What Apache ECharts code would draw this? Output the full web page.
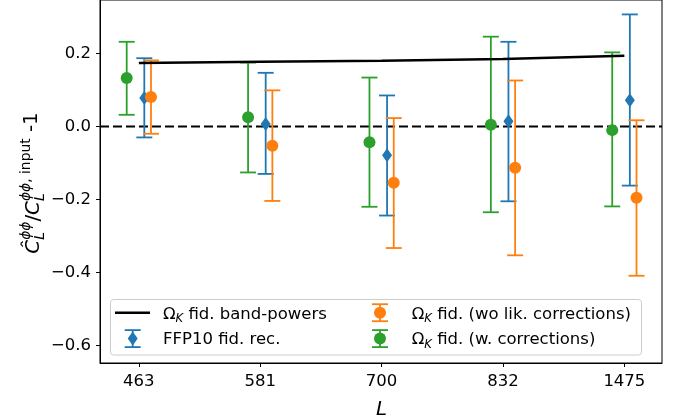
<!DOCTYPE html>
<html><head><meta charset="utf-8">
<script src="https://cdn.jsdelivr.net/npm/echarts@6/dist/echarts.min.js"></script>
<style>html,body{margin:0;padding:0;background:#fff}#c{width:683px;height:420px}</style>
</head><body><div id="c"></div>
<script>
const categories = ['463','581','700','832','1475'];
const bandPowers = [0.174,0.177,0.180,0.185,0.194];
const ffp10 = [0.078,0.007,-0.079,0.014,0.072];
const ffp10Low = [-0.030,-0.130,-0.244,-0.205,-0.162];
const ffp10High = [0.187,0.147,0.085,0.232,0.307];
const woLik = [0.081,-0.053,-0.154,-0.113,-0.195];
const woLikLow = [-0.020,-0.204,-0.333,-0.353,-0.409];
const woLikHigh = [0.181,0.099,0.023,0.126,0.017];
const wCorr = [0.133,0.025,-0.043,0.005,-0.010];
const wCorrLow = [0.032,-0.126,-0.220,-0.235,-0.219];
const wCorrHigh = [0.232,0.175,0.134,0.246,0.203];
const yTicks = [-0.6,-0.4,-0.2,0.0,0.2];
const xTicks = [0,1,2,3,4];

const BLUE='#1f77b4', ORANGE='#ff7f0e', GREEN='#2ca02c';
const FF='"DejaVu Sans"';
const F=16.5, S=F*0.7;
const FL=19.8, SL=FL*0.7;
const OFF_BLUE=0.045, OFF_ORANGE=0.1, OFF_GREEN=-0.1;

const ctx=document.createElement('canvas').getContext('2d');
function fnt(s,it){return (it?'italic ':'')+s+'px '+FF;}
function tw(t,s,it){ctx.font=fnt(s,it);return ctx.measureText(t).width;}
function midOff(s){
  ctx.font=fnt(s,false);
  ctx.textBaseline='alphabetic';const a1=ctx.measureText('H').actualBoundingBoxAscent;
  ctx.textBaseline='middle';const a2=ctx.measureText('H').actualBoundingBoxAscent;
  ctx.textBaseline='alphabetic';
  return a1-a2;
}
// pieces: {t,s,it,dy,stack}; baseline at y=0; stack=true -> next piece starts at same x
function layoutPieces(pieces){
  const els=[];let x=0;let stackW=0;
  pieces.forEach(p=>{
    const w=tw(p.t,p.s,p.it);
    els.push({type:'text',x:x,y:(p.dy||0)-midOff(p.s),silent:true,
      style:{text:p.t,font:fnt(p.s,p.it),fill:'#000',align:'left',verticalAlign:'middle'}});
    if(p.stack){stackW=Math.max(stackW,w);}
    else{x+=Math.max(w,stackW);stackW=0;}
  });
  return {els:els,width:x};
}

function errData(vals,lo,hi,off){return vals.map((v,i)=>[i+off,lo[i],hi[i]]);}
function ptData(vals,off){return vals.map((v,i)=>[i+off,v]);}
function errRender(color){
  return function(params,api){
    const x=api.value(0),lo=api.value(1),hi=api.value(2);
    const a=api.coord([x,lo]),b=api.coord([x,hi]);const hw=8;
    const st={stroke:color,lineWidth:1.8};
    return {type:'group',children:[
      {type:'line',shape:{x1:a[0],y1:a[1],x2:b[0],y2:b[1]},style:st},
      {type:'line',shape:{x1:a[0]-hw,y1:a[1],x2:a[0]+hw,y2:a[1]},style:st},
      {type:'line',shape:{x1:b[0]-hw,y1:b[1],x2:b[0]+hw,y2:b[1]},style:st}
    ]};
  };
}
function errSeries(vals,lo,hi,off,color,z){
  return {type:'custom',data:errData(vals,lo,hi,off),renderItem:errRender(color),
    encode:{x:0,y:[1,2]},z:z,silent:true,animation:false};
}
function ptSeries(vals,off,color,symbol,size,z){
  return {type:'scatter',data:ptData(vals,off),symbol:symbol,symbolSize:size,
    itemStyle:{color:color,opacity:1},z:z,silent:true};
}

const graphics=[];
// y label (laid out horizontally, then rotated)
const ylPieces=[
  {t:'Ĉ',s:FL,it:true},
  {t:'ϕϕ',s:SL,it:true,dy:-9,stack:true},
  {t:'L',s:SL,it:true,dy:4.5},
  {t:'/',s:FL},
  {t:'C',s:FL,it:true},
  {t:'L',s:SL,it:true,dy:4.5,stack:true},
  {t:'ϕϕ',s:SL,it:true,dy:-9},
  {t:', input',s:SL,dy:-9},
  {t:' -1',s:FL,dy:-2}
];
const ylab=layoutPieces(ylPieces);
ylab.els.forEach(e=>{e.x-=ylab.width/2;});
graphics.push({type:'group',x:39,y:183,rotation:Math.PI/2,children:ylab.els});

// x label
graphics.push({type:'group',x:381.5,y:415,children:(function(){
  const l=layoutPieces([{t:'L',s:FL,it:true}]);l.els.forEach(e=>{e.x-=l.width/2;});return l.els;})()});

// legend
graphics.push({type:'rect',shape:{x:110.5,y:299.5,width:531,height:55.5,r:3},
  style:{fill:'rgba(255,255,255,0.8)',stroke:'#cccccc',lineWidth:1},z:50,silent:true});
const R1=312.7,R2=338.6;
const BL=5.8; // baseline offset below row centre
function legText(pieces,x,y){
  const l=layoutPieces(pieces);
  l.els.forEach(e=>{e.x+=x;e.y+=y+BL;e.z=52;});
  return l.els;
}
function legErr(x,y,color,marker){
  const st={stroke:color,lineWidth:1.8};const hh=8.5,hw=8;
  const out=[
    {type:'line',shape:{x1:x,y1:y-hh,x2:x,y2:y+hh},style:st,z:51},
    {type:'line',shape:{x1:x-hw,y1:y-hh,x2:x+hw,y2:y-hh},style:st,z:51},
    {type:'line',shape:{x1:x-hw,y1:y+hh,x2:x+hw,y2:y+hh},style:st,z:51}];
  if(marker==='circle')out.push({type:'circle',shape:{cx:x,cy:y,r:6},style:{fill:color},z:52});
  else out.push({type:'polygon',shape:{points:[[x,y-7],[x+5,y],[x,y+7],[x-5,y]]},style:{fill:color},z:52});
  return out;
}
graphics.push({type:'line',shape:{x1:115,y1:R1,x2:150,y2:R1},style:{stroke:'#000',lineWidth:2.5},z:51});
legText([{t:'Ω',s:F},{t:'K',s:S,it:true,dy:3.5},{t:' fid. band-powers',s:F}],163,R1).forEach(e=>graphics.push(e));
legErr(132.7,R2,BLUE,'diamond').forEach(e=>graphics.push(e));
legText([{t:'FFP10 fid. rec.',s:F}],163,R2).forEach(e=>graphics.push(e));
legErr(380,R1,ORANGE,'circle').forEach(e=>graphics.push(e));
legText([{t:'Ω',s:F},{t:'K',s:S,it:true,dy:3.5},{t:' fid. (wo lik. corrections)',s:F}],411.7,R1).forEach(e=>graphics.push(e));
legErr(380,R2,GREEN,'circle').forEach(e=>graphics.push(e));
legText([{t:'Ω',s:F},{t:'K',s:S,it:true,dy:3.5},{t:' fid. (w. corrections)',s:F}],411.7,R2).forEach(e=>graphics.push(e));

const XMIN=-0.32, XMAX=4.31;
const option={
  animation:false,
  grid:{left:100,right:21,top:0,bottom:57,show:true,borderColor:'#000',borderWidth:1,backgroundColor:'transparent'},
  xAxis:{type:'value',min:XMIN,max:XMAX,splitLine:{show:false},
    axisLine:{onZero:false,lineStyle:{color:'#000',width:1}},
    axisTick:{customValues:xTicks,length:4,lineStyle:{color:'#000',width:1}},
    axisLabel:{customValues:xTicks,formatter:v=>categories[Math.round(v)],color:'#000',fontSize:F,fontFamily:'DejaVu Sans',margin:10}},
  yAxis:{type:'value',min:-0.648,max:0.3465,splitLine:{show:false},
    axisLine:{onZero:false,lineStyle:{color:'#000',width:1}},
    axisTick:{customValues:yTicks,length:4,lineStyle:{color:'#000',width:1}},
    axisLabel:{customValues:yTicks,formatter:v=>(v<-1e-9?'\u2212':'')+Math.abs(v).toFixed(1),color:'#000',fontSize:F,fontFamily:'DejaVu Sans',margin:9}},
  series:[
    {type:'line',data:[[XMIN,0],[XMAX,0]],symbol:'none',lineStyle:{color:'#000',width:2,type:[9,4]},z:1,silent:true},
    errSeries(ffp10,ffp10Low,ffp10High,OFF_BLUE,BLUE,2),
    ptSeries(ffp10,OFF_BLUE,BLUE,'diamond',[10,14],3),
    errSeries(woLik,woLikLow,woLikHigh,OFF_ORANGE,ORANGE,4),
    ptSeries(woLik,OFF_ORANGE,ORANGE,'circle',12,5),
    errSeries(wCorr,wCorrLow,wCorrHigh,OFF_GREEN,GREEN,6),
    ptSeries(wCorr,OFF_GREEN,GREEN,'circle',12,7),
    {type:'line',data:bandPowers.map((v,i)=>[i,v]),symbol:'none',showSymbol:false,lineStyle:{color:'#000',width:2.5},z:10,silent:true}
  ],
  graphic:graphics
};
const chart=echarts.init(document.getElementById('c'),null,{renderer:'canvas'});
chart.setOption(option);
</script></body></html>
